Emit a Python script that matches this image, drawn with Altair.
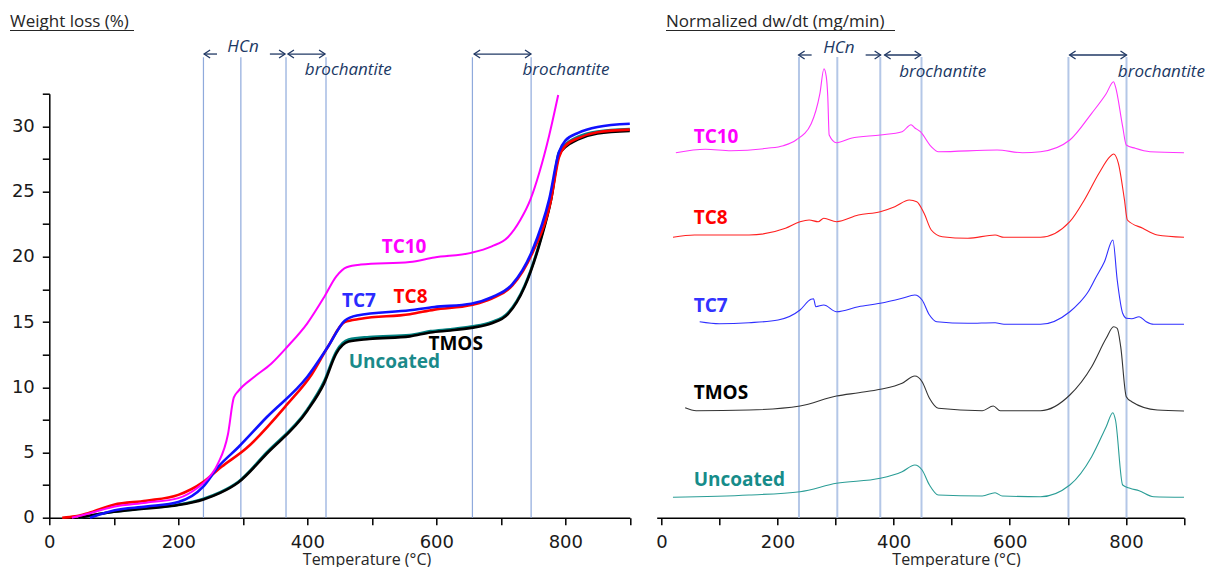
import altair as alt
import pandas as pd

# ---------------- Left panel: Weight loss (%) vs Temperature ----------------
TC10_T = [35, 60, 100, 150, 200, 230, 242, 261, 277, 286, 293, 318, 344, 369, 400, 426, 445, 461, 483, 559, 597, 654, 686, 711, 730, 746, 760, 775, 789]
TC10_W = [0.0, 0.3, 0.84, 1.15, 1.5, 2.3, 2.8, 4.1, 6.4, 9.2, 9.7, 10.8, 11.8, 13.1, 14.9, 16.9, 18.5, 19.2, 19.4, 19.6, 19.95, 20.3, 20.8, 21.5, 22.8, 24.4, 26.5, 29.3, 32.4]

TC8_T = [20, 40, 60, 100, 150, 200, 239, 267, 305, 369, 407, 432, 458, 483, 559, 597, 654, 686, 718, 749, 778, 790, 800, 820, 850, 900]
TC8_W = [0.0, 0.1, 0.35, 1.0, 1.3, 1.75, 2.75, 3.9, 5.3, 8.7, 11.0, 13.1, 15.0, 15.25, 15.6, 15.95, 16.3, 16.8, 17.8, 20.3, 24.4, 27.6, 28.5, 29.1, 29.55, 29.75]

TC7_T = [63, 100, 150, 200, 239, 261, 293, 337, 400, 432, 458, 477, 559, 597, 654, 686, 718, 749, 775, 790, 800, 820, 850, 900]
TC7_W = [0.0, 0.55, 0.85, 1.2, 2.4, 3.85, 5.4, 7.7, 10.8, 13.1, 15.1, 15.5, 15.9, 16.15, 16.4, 16.9, 17.9, 20.5, 24.4, 28.0, 28.9, 29.5, 29.95, 30.2]

TMOS_T = [45, 100, 150, 200, 239, 265, 293, 337, 400, 426, 445, 464, 496, 559, 591, 622, 654, 686, 711, 737, 762, 778, 790, 800, 820, 850, 900]
TMOS_W = [0.0, 0.45, 0.7, 0.97, 1.4, 1.9, 2.7, 4.9, 8.2, 10.3, 12.6, 13.5, 13.7, 13.9, 14.2, 14.35, 14.55, 14.9, 15.6, 17.7, 21.3, 24.4, 27.8, 28.4, 29.0, 29.45, 29.65]

UNC_T = [45, 100, 150, 200, 239, 265, 293, 337, 400, 426, 445, 464, 496, 559, 591, 622, 654, 686, 711, 737, 762, 778, 790, 800, 820, 850, 900]
UNC_W = [0.0, 0.45, 0.72, 1.0, 1.45, 1.95, 2.75, 5.0, 8.3, 10.45, 12.75, 13.65, 13.85, 14.0, 14.3, 14.45, 14.65, 15.0, 15.7, 17.8, 21.4, 24.5, 28.0, 28.6, 29.2, 29.6, 29.8]

L_VLINES = [239, 297, 367, 429, 656, 747]
L_LABELS = ["TC10", "TC7", "TC8", "TMOS", "Uncoated"]
L_LABEL_T = [550, 480, 560, 630, 535]
L_LABEL_W = [20.75, 16.6, 16.9, 13.28, 11.93]
L_LABEL_C = ["#FF00FF", "#2B2BFF", "#FF0000", "#000000", "#1A8A8A"]

L_ARROW_X1 = [240, 342, 370, 658.6]
L_ARROW_X2 = [260, 365.5, 427.5, 746.8]
L_HEAD_LEFT = [240, 370, 658.6]
L_HEAD_RIGHT = [365.5, 427.5, 746.8]
L_ANN_TEXT = ["HCn", "brochantite", "brochantite"]
L_ANN_T = [300.3, 463.6, 801.1]
L_ANN_V = [36.08, 34.33, 34.33]

# ---------------- Right panel: Normalized dw/dt (offset curves, arbitrary units) ----------------
R_TC10_T = [25, 76, 120, 182, 210, 232, 258, 273, 280, 284, 286.6, 289, 301.6, 326.7, 377, 414.6, 430, 436, 446, 464.8, 477, 578, 621.8, 653, 703.4, 741, 766, 778.7, 782, 794.4, 800.6, 816, 841.4, 900]
R_TC10_H = [365, 368.4, 367, 369.4, 372, 377.7, 394, 424, 449, 441, 421, 382.7, 375, 379.4, 382.7, 386, 393, 390, 386, 371, 366, 367.7, 365, 366, 377.7, 404.4, 424, 436, 431, 391, 372.7, 369.4, 366, 365]

R_TC8_T = [20, 57, 151, 213.7, 238.8, 254.5, 270, 279.7, 301.6, 339.3, 377, 402, 427, 439.8, 452.4, 464.8, 483.7, 527.7, 574.7, 590, 653, 703.4, 728.4, 753.6, 772.5, 778.7, 787, 797.5, 802.5, 829, 854, 900]
R_TC8_H = [280.4, 282.7, 282.7, 289.4, 296, 297.7, 296, 299.4, 296, 302.7, 306, 311, 317.7, 316, 304.4, 287.7, 281, 279.4, 282.7, 280.4, 280.4, 296, 317.7, 344.4, 361, 363.7, 354.4, 317.7, 297.7, 289.4, 282.7, 280.4]

R_TC7_T = [66, 100, 151, 201, 238.8, 257.6, 262, 266, 279.7, 301.6, 339.3, 377, 414.6, 436.5, 449, 461.7, 474.3, 527.7, 574.7, 590, 653, 703.4, 720, 735, 748, 763, 777.5, 785, 794.4, 801, 810, 822.7, 835, 847.8, 900]
R_TC7_H = [196, 194, 195, 197.7, 207.7, 218.4, 219, 211, 212.7, 206, 211, 214.4, 219.4, 222.7, 217.7, 202.7, 196, 194.4, 195, 193.4, 193.4, 206, 215, 226, 240, 256, 277.7, 237.7, 204.4, 199.4, 199, 201, 196, 193.4, 193.4]

R_TMOS_T = [41, 60, 151, 238.8, 301.6, 340, 377, 414.6, 436.5, 449, 461.7, 477, 552.6, 571.6, 583.6, 653, 703.4, 741, 766, 778.7, 785, 791, 800.6, 810, 854, 900]
R_TMOS_H = [110, 107, 107.7, 111.7, 121.7, 125, 128.4, 134.4, 141.7, 136, 119.4, 109.4, 107, 111.7, 107, 107, 122.7, 151, 179.4, 191, 189.4, 171, 121, 116, 107.7, 106.7]

R_UNC_T = [20, 151, 238.8, 301.6, 377, 414.6, 436.5, 449, 461.7, 477, 552.6, 574.7, 587, 653, 703.4, 741, 766, 777.5, 782, 794.4, 807, 822.7, 847.8, 900]
R_UNC_H = [20.4, 22.7, 26, 34.4, 39.4, 46, 52.7, 47.7, 32.7, 22.7, 21.7, 25, 21.7, 21, 32.7, 61, 91, 105, 97.7, 32.7, 29.4, 27, 21, 20.4]

R_VLINES = [237, 303, 377, 448, 701, 801]
R_LABELS = ["TC10", "TC8", "TC7", "TMOS", "Uncoated"]
R_LABEL_T = [55.6, 55.6, 55.6, 55.6, 55.6]
R_LABEL_H = [381, 299.7, 211.4, 124.4, 38.2]
R_LABEL_C = ["#FF00FF", "#FF0000", "#3333FF", "#000000", "#168C8A"]

R_ARROW_X1 = [236.4, 351.8, 384.5, 703]
R_ARROW_X2 = [258.8, 377.6, 446.5, 801]
R_HEAD_LEFT = [236.4, 384.5, 703]
R_HEAD_RIGHT = [377.6, 446.5, 801]
R_ANN_TEXT = ["HCn", "brochantite", "brochantite"]
R_ANN_T = [305.6, 484.4, 861]
R_ANN_V = [469.7, 445.7, 445.7]

X_TICKS = [0, 100, 200, 300, 400, 500, 600, 700, 800, 900]
Y_TICKS = [0, 2.5, 5, 7.5, 10, 12.5, 15, 17.5, 20, 22.5, 25, 27.5, 30, 32.5]

NAVY = "#203864"

# ---------------- scales / axes ----------------
LX = alt.Scale(domain=[0, 900], range=[0, 580.5], nice=False, zero=False)
LY = alt.Scale(domain=[0, 32.5], nice=False, zero=False)
RX = alt.Scale(domain=[-8, 900], range=[607.4, 1134.7], nice=False, zero=False)
RY = alt.Scale(domain=[0, 424], nice=False, zero=False)

common = dict(domainColor="black", domainWidth=1.5, tickColor="black", tickWidth=1.5, tickSize=7,
              labelFont="DejaVu Sans", labelFontSize=18, labelColor="#1a1a1a", grid=False,
              labelOverlap=False, labelFlush=False)
xlab = "datum.value % 200 === 0 && datum.value < 900 ? datum.label : ''"
xtitle = dict(title="Temperature (°C)", titleBaseline="alphabetic", titleAlign="center",
              titleFont="Open Sans", titleFontSize=16, titleFontWeight="normal", titleColor="#262626",
              titleY=46.5)
LXA = alt.Axis(orient="bottom", values=X_TICKS, labelExpr=xlab, labelPadding=9, titleX=317.2, **xtitle, **common)
RXA = alt.Axis(orient="bottom", values=X_TICKS, labelExpr=xlab, labelPadding=9, titleX=906.7, **xtitle, **common)
LYA = alt.Axis(orient="left", values=Y_TICKS, labelExpr="datum.value % 5 === 0 ? datum.label : ''",
               labelPadding=8, title=None, **common)


def lx(f="T"):
    return alt.X(f"{f}:Q", scale=LX, axis=LXA)


def ly(f="v"):
    return alt.Y(f"{f}:Q", scale=LY, axis=LYA)


def rx(f="T"):
    return alt.X(f"{f}:Q", scale=RX, axis=RXA)


def ry(f="v"):
    return alt.Y(f"{f}:Q", scale=RY, axis=None)


def series(t, v):
    return pd.DataFrame({"T": t, "v": v})


# ---------------- left layers ----------------
left_layers = []
left_layers.append(
    alt.Chart(pd.DataFrame({"T": L_VLINES, "y0": [0] * 6, "y1": [35.3] * 6}))
    .mark_rule(color="#8FAADC", strokeWidth=1.2)
    .encode(x=lx(), y=ly("y0"), y2="y1")
)
for t, v, c, w in [(UNC_T, UNC_W, "#008080", 2.6), (TMOS_T, TMOS_W, "#000000", 2.6),
                   (TC8_T, TC8_W, "#FF0000", 2.6), (TC7_T, TC7_W, "#1010FF", 2.6),
                   (TC10_T, TC10_W, "#FF00FF", 2.0)]:
    left_layers.append(
        alt.Chart(series(t, v)).mark_line(color=c, strokeWidth=w, interpolate="monotone")
        .encode(x=lx(), y=ly())
    )
left_layers.append(
    alt.Chart(pd.DataFrame({"T": L_LABEL_T, "v": L_LABEL_W, "lab": L_LABELS, "c": L_LABEL_C}))
    .mark_text(font="Open Sans", fontSize=19, fontWeight="bold", align="center", baseline="middle")
    .encode(x=lx(), y=ly(), text="lab:N", color=alt.Color("c:N", scale=None))
)
left_layers.append(
    alt.Chart(pd.DataFrame({"T": L_ARROW_X1, "T2": L_ARROW_X2, "v": [35.54] * 4}))
    .mark_rule(color=NAVY, strokeWidth=1.3)
    .encode(x=lx(), x2="T2", y=ly())
)
left_layers.append(
    alt.Chart(pd.DataFrame({"T": L_HEAD_LEFT, "v": [35.54] * 3}))
    .mark_point(shape="M 1.5 -1 L 0 0 L 1.5 1", filled=False, size=64, strokeWidth=1.3, color=NAVY, opacity=1)
    .encode(x=lx(), y=ly())
)
left_layers.append(
    alt.Chart(pd.DataFrame({"T": L_HEAD_RIGHT, "v": [35.54] * 3}))
    .mark_point(shape="M -1.5 -1 L 0 0 L -1.5 1", filled=False, size=64, strokeWidth=1.3, color=NAVY, opacity=1)
    .encode(x=lx(), y=ly())
)
left_layers.append(
    alt.Chart(pd.DataFrame({"T": L_ANN_T, "v": L_ANN_V, "lab": L_ANN_TEXT}))
    .mark_text(font="Open Sans", fontSize=17, fontStyle="italic", color=NAVY, align="center", baseline="middle")
    .encode(x=lx(), y=ly(), text="lab:N")
)

# ---------------- right layers ----------------
right_layers = []
right_layers.append(
    alt.Chart(pd.DataFrame({"T": R_VLINES, "y0": [0] * 6, "y1": [460.7] * 6}))
    .mark_rule(color="#B4C7E7", strokeWidth=2)
    .encode(x=rx(), y=ry("y0"), y2="y1")
)
for t, v, c in [(R_TC10_T, R_TC10_H, "#FF33FF"), (R_TC8_T, R_TC8_H, "#FF2020"),
                (R_TC7_T, R_TC7_H, "#2F2FFF"), (R_TMOS_T, R_TMOS_H, "#333333"),
                (R_UNC_T, R_UNC_H, "#2A9D96")]:
    right_layers.append(
        alt.Chart(series(t, v)).mark_line(color=c, strokeWidth=1.1, interpolate="monotone")
        .encode(x=rx(), y=ry())
    )
right_layers.append(
    alt.Chart(pd.DataFrame({"T": R_LABEL_T, "v": R_LABEL_H, "lab": R_LABELS, "c": R_LABEL_C}))
    .mark_text(font="Open Sans", fontSize=19, fontWeight="bold", align="left", baseline="middle")
    .encode(x=rx(), y=ry(), text="lab:N", color=alt.Color("c:N", scale=None))
)
right_layers.append(
    alt.Chart(pd.DataFrame({"T": R_ARROW_X1, "T2": R_ARROW_X2, "v": [462.7] * 4}))
    .mark_rule(color=NAVY, strokeWidth=1.3)
    .encode(x=rx(), x2="T2", y=ry())
)
right_layers.append(
    alt.Chart(pd.DataFrame({"T": R_HEAD_LEFT, "v": [462.7] * 3}))
    .mark_point(shape="M 1.5 -1 L 0 0 L 1.5 1", filled=False, size=64, strokeWidth=1.3, color=NAVY, opacity=1)
    .encode(x=rx(), y=ry())
)
right_layers.append(
    alt.Chart(pd.DataFrame({"T": R_HEAD_RIGHT, "v": [462.7] * 3}))
    .mark_point(shape="M -1.5 -1 L 0 0 L -1.5 1", filled=False, size=64, strokeWidth=1.3, color=NAVY, opacity=1)
    .encode(x=rx(), y=ry())
)
right_layers.append(
    alt.Chart(pd.DataFrame({"T": R_ANN_T, "v": R_ANN_V, "lab": R_ANN_TEXT}))
    .mark_text(font="Open Sans", fontSize=17, fontStyle="italic", color=NAVY, align="center", baseline="middle")
    .encode(x=rx(), y=ry(), text="lab:N")
)

# ---------------- panel titles (underlined) ----------------
one = pd.DataFrame({"k": [0]})
titles = alt.layer(
    alt.Chart(one).mark_text(font="Open Sans", fontSize=17, color="#262626", align="left", baseline="alphabetic")
    .encode(x=alt.value(-39.3), y=alt.value(-67), text=alt.value("Weight loss (%)")),
    alt.Chart(one).mark_rule(color="#262626", strokeWidth=1.2)
    .encode(x=alt.value(-39.3), x2=alt.value(84.7), y=alt.value(-63.2)),
    alt.Chart(one).mark_text(font="Open Sans", fontSize=17, color="#262626", align="left", baseline="alphabetic")
    .encode(x=alt.value(616.7), y=alt.value(-67), text=alt.value("Normalized dw/dt (mg/min)")),
    alt.Chart(one).mark_rule(color="#262626", strokeWidth=1.2)
    .encode(x=alt.value(616.7), x2=alt.value(845.7), y=alt.value(-63.2)),
)

left = alt.layer(*left_layers)
right = alt.layer(*right_layers)

chart = (
    alt.layer(left, right, titles)
    .resolve_scale(x="independent", y="independent")
    .properties(width=1134.7, height=424,
                padding={"left": 49.3, "top": 93.7, "right": 26, "bottom": 49.3},
                autosize=alt.AutoSizeParams(type="none"),
                background="white")
    .configure_view(stroke=None)
)

chart.save("out.html", embed_options={"renderer": "svg", "actions": False})
